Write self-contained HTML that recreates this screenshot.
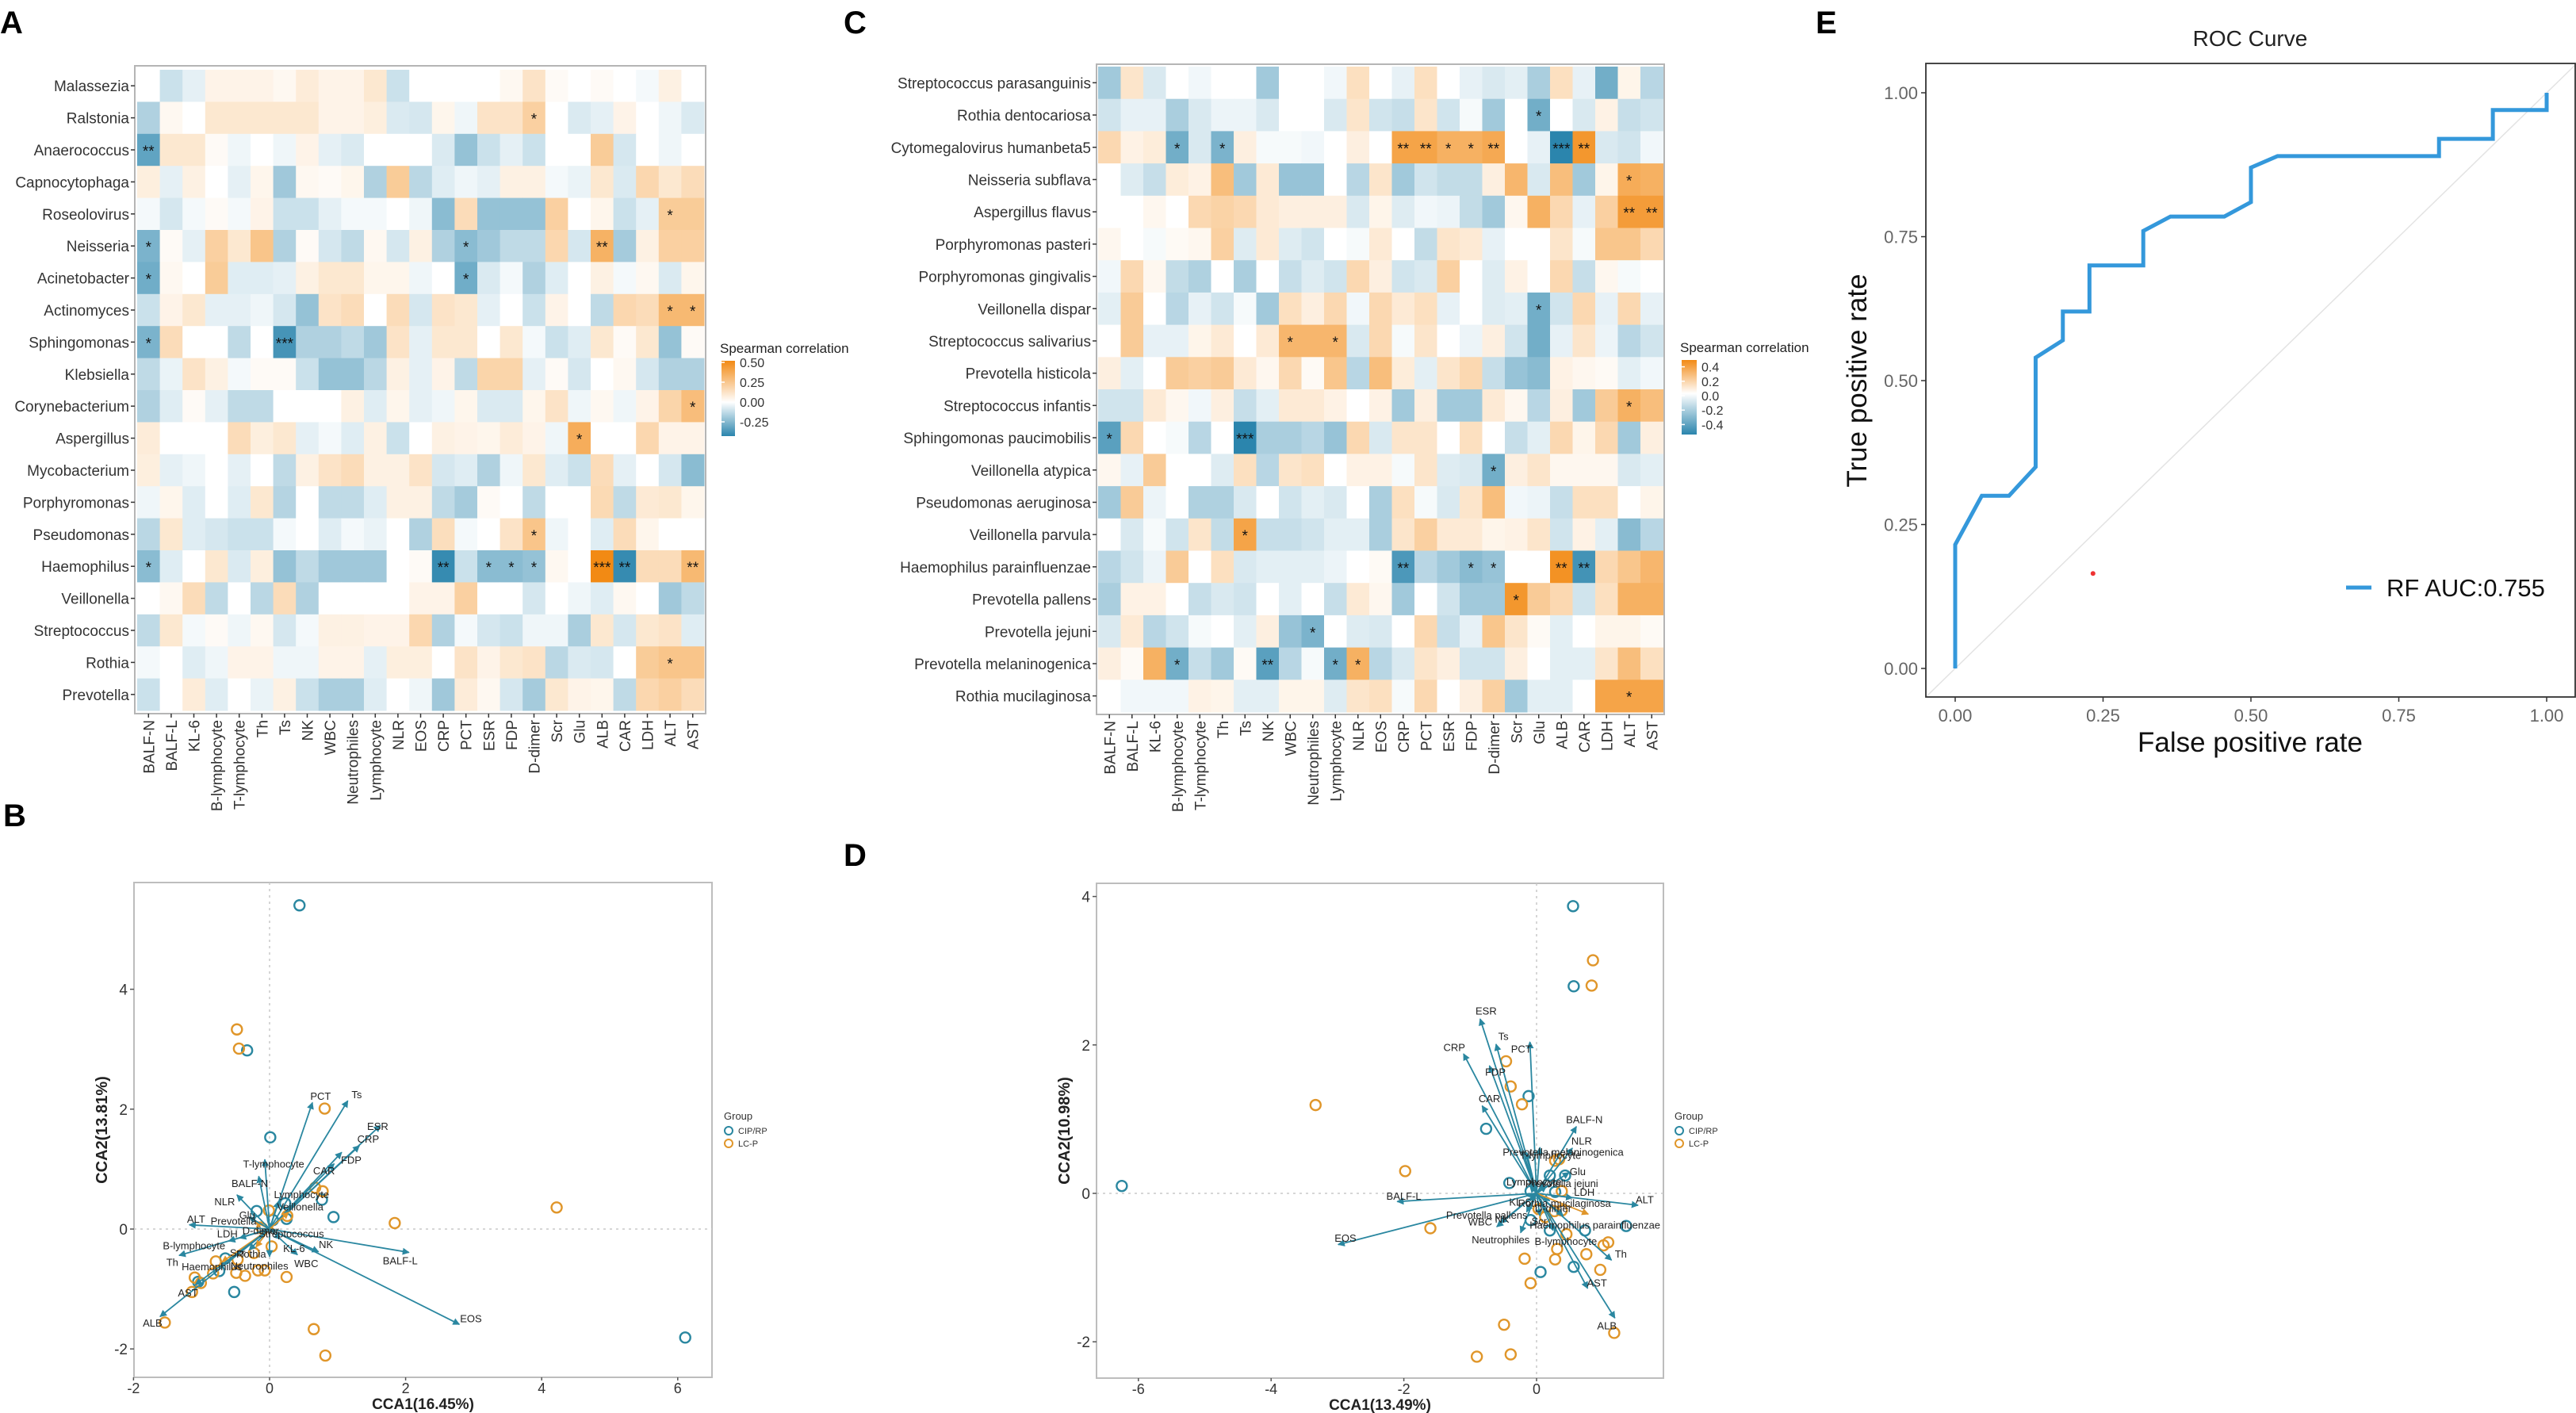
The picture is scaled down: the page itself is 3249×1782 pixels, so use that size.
<!DOCTYPE html>
<html><head><meta charset="utf-8"><style>
html,body{margin:0;padding:0;background:#fff;}
svg{display:block;font-family:"Liberation Sans",sans-serif;}
</style></head><body>
<svg id="fig" width="3249" height="1782" viewBox="0 0 3249 1782" xmlns="http://www.w3.org/2000/svg">
<defs>
<marker id="arT" viewBox="0 0 10 10" refX="9" refY="5" markerWidth="5" markerHeight="5" orient="auto"><path d="M0,0 L10,5 L0,10 z" fill="#2a87a0"/></marker>
<marker id="arO" viewBox="0 0 10 10" refX="9" refY="5" markerWidth="5" markerHeight="5" orient="auto"><path d="M0,0 L10,5 L0,10 z" fill="#e0962a"/></marker>
<linearGradient id="gradA" x1="0" y1="1" x2="0" y2="0">
<stop offset="0" stop-color="#2b85ad"/><stop offset="0.45" stop-color="#ffffff"/><stop offset="1" stop-color="#f28a14"/></linearGradient>
<linearGradient id="gradC" x1="0" y1="1" x2="0" y2="0">
<stop offset="0" stop-color="#2b85ad"/><stop offset="0.55" stop-color="#ffffff"/><stop offset="1" stop-color="#f28a14"/></linearGradient>
</defs>
</svg>
<script>
// ---------- DATA ----------
const colLabels = ["BALF-N","BALF-L","KL-6","B-lymphocyte","T-lymphocyte","Th","Ts","NK","WBC","Neutrophiles","Lymphocyte","NLR","EOS","CRP","PCT","ESR","FDP","D-dimer","Scr","Glu","ALB","CAR","LDH","ALT","AST"];
const rowsA = ["Malassezia","Ralstonia","Anaerococcus","Capnocytophaga","Roseolovirus","Neisseria","Acinetobacter","Actinomyces","Sphingomonas","Klebsiella","Corynebacterium","Aspergillus","Mycobacterium","Porphyromonas","Pseudomonas","Haemophilus","Veillonella","Streptococcus","Rothia","Prevotella"];
const valsA = [
[0,-.1,-.05,.05,.05,.05,.03,.08,.05,.05,.1,-.1,0,0,0,0,.03,.12,.02,0,.02,0,-.02,.06,0],
[-.15,.03,0,.1,.1,.1,.1,.1,.05,.05,.07,-.07,-.08,.04,-.03,.12,.12,.2,0,-.07,-.05,.05,0,-.03,-.07],
[-.3,.1,.1,.02,-.03,0,-.03,.05,-.05,-.07,0,0,0,-.07,-.2,-.1,-.05,-.1,0,0,.22,-.08,0,-.03,0],
[.07,-.05,.06,0,-.05,.04,-.18,.03,.02,.04,-.15,.22,-.13,-.06,-.03,-.05,.06,.06,-.02,-.04,.1,-.07,.17,.1,.15],
[-.02,-.08,-.02,.02,-.02,.05,-.1,-.1,-.05,-.02,-.02,0,-.03,-.22,.15,-.2,-.2,-.2,.2,0,.04,-.1,-.05,.22,.22],
[-.25,.02,-.05,.2,.1,.25,-.15,.02,-.08,-.12,.03,-.08,.06,-.15,-.22,-.18,-.12,-.12,.17,-.08,.33,-.17,.06,.2,.2],
[-.27,.03,0,.22,-.06,-.06,-.05,.06,.1,.1,.04,.04,-.03,0,-.27,-.07,-.02,-.15,-.06,0,.06,-.02,.03,-.07,.04],
[-.1,.05,.1,-.05,-.05,-.03,-.08,-.2,.12,.15,0,.15,-.08,.12,.1,-.05,0,-.1,.05,0,-.12,.17,.15,.3,.3],
[-.25,.15,0,0,-.12,0,-.35,-.15,-.15,-.12,-.18,.12,-.05,.1,.1,0,.1,-.02,-.1,-.06,.1,.02,.1,-.2,.02],
[-.12,-.04,.12,.06,-.02,.02,.02,-.1,-.2,-.2,-.13,.06,-.05,.05,-.12,.18,.18,-.05,.02,-.08,0,.03,-.08,-.15,-.15],
[-.15,-.06,.02,-.05,-.12,-.12,0,0,0,.06,-.06,.04,-.05,-.03,.04,-.07,-.07,.04,.12,-.03,.03,-.03,.05,.18,.28],
[.08,0,0,0,.15,.07,.1,-.05,-.02,-.06,.06,-.1,0,.06,.05,.04,.08,.05,-.03,.35,0,0,.17,.05,.05],
[.07,-.05,-.03,0,-.05,0,-.12,.06,.12,.15,.06,.06,.12,-.08,-.06,-.15,-.03,.1,-.06,-.1,.15,-.05,0,-.08,-.22],
[-.03,.04,-.06,0,-.06,.1,-.14,0,-.12,-.12,-.06,.06,.06,-.12,-.17,.02,0,-.12,0,0,.16,-.12,.09,.1,.04],
[-.13,.1,-.06,-.08,-.1,-.1,-.02,0,-.06,-.02,-.04,0,-.15,.14,-.02,0,.12,.25,-.03,0,-.06,.15,.04,0,0],
[-.22,-.06,0,.1,-.07,.07,-.2,-.12,-.18,-.18,-.18,0,.02,-.38,-.1,-.22,-.22,-.2,.03,0,.5,-.38,.15,.15,.3],
[0,.03,.15,-.12,0,-.13,.15,-.15,0,0,0,0,.05,.05,.2,0,0,-.08,0,-.03,-.06,.03,0,-.18,-.12],
[-.12,.1,-.02,.02,-.03,.03,-.08,-.02,.06,.06,.05,.05,.17,-.15,-.02,-.08,-.1,-.03,-.03,-.16,.1,-.08,.1,.12,-.06],
[-.02,0,-.06,-.03,.05,.05,-.03,-.03,.05,.05,-.05,.07,.07,0,.12,.05,.1,.12,-.13,-.07,-.08,0,.22,.25,.25],
[-.1,0,.08,-.06,0,-.04,.06,-.1,-.16,-.16,-.06,0,-.03,-.18,.08,.03,-.08,-.17,.1,.05,.04,-.12,.17,.2,.15]];
const starsA = [[1,17,"*"],[2,0,"**"],[4,23,"*"],[5,0,"*"],[5,14,"*"],[5,20,"**"],[6,0,"*"],[6,14,"*"],[7,23,"*"],[7,24,"*"],[8,0,"*"],[8,6,"***"],[10,24,"*"],[11,19,"*"],[14,17,"*"],[15,0,"*"],[15,13,"**"],[15,15,"*"],[15,16,"*"],[15,17,"*"],[15,20,"***"],[15,21,"**"],[15,24,"**"],[18,23,"*"]];
const legendTicksA = ["0.50","0.25","0.00","-0.25"];

const rowsC = ["Streptococcus parasanguinis","Rothia dentocariosa","Cytomegalovirus humanbeta5","Neisseria subflava","Aspergillus flavus","Porphyromonas pasteri","Porphyromonas gingivalis","Veillonella dispar","Streptococcus salivarius","Prevotella histicola","Streptococcus infantis","Sphingomonas paucimobilis","Veillonella atypica","Pseudomonas aeruginosa","Veillonella parvula","Haemophilus parainfluenzae","Prevotella pallens","Prevotella jejuni","Prevotella melaninogenica","Rothia mucilaginosa"];
const valsC = [
[-.2,.1,-.08,0,-.03,0,0,-.2,0,0,-.03,.12,0,-.05,.12,0,-.05,-.08,-.06,-.18,.12,-.05,-.3,.04,-.15],
[-.1,-.05,-.05,-.18,-.08,-.04,-.04,-.08,0,0,-.08,.1,-.1,-.12,.1,-.1,-.02,-.2,0,-.3,0,-.08,.05,-.12,-.1],
[.15,.05,.07,-.3,-.08,-.28,.06,-.02,-.02,-.03,0,.06,0,.35,.35,.3,.3,.33,0,-.05,-.45,.4,-.08,-.1,-.03],
[0,-.07,-.12,.07,.05,.25,-.2,.08,-.22,-.22,0,-.15,.1,-.2,-.1,-.13,-.13,.06,.28,-.08,.25,-.2,.04,.32,.3],
[0,0,.03,0,.15,.17,.15,.08,.06,.06,.06,-.08,.04,-.07,-.03,-.04,-.13,-.2,.03,.3,.15,-.05,.18,.38,.38],
[.03,0,-.02,.02,.03,.18,-.07,.08,-.07,-.1,0,-.02,.08,0,-.13,.1,.08,-.05,0,0,.1,-.02,.22,.22,.15],
[-.03,.15,.03,-.13,-.17,0,-.18,0,-.12,-.07,-.1,.15,.06,-.1,-.08,.18,0,-.07,.05,0,.15,-.12,.03,-.02,0],
[-.06,.2,0,-.15,-.05,-.1,-.02,-.2,.12,.06,.15,-.03,.15,.08,.12,-.05,0,-.07,-.06,-.3,-.1,.15,-.05,.15,-.05],
[0,.2,-.05,-.05,.04,.08,0,.08,.28,.28,.28,-.08,.15,-.02,.1,0,-.04,.06,-.1,-.3,-.05,.1,-.04,-.15,-.1],
[.06,-.06,0,.2,.18,.2,.08,.03,.15,.02,.22,-.15,.25,.07,-.06,.1,.15,-.12,-.22,-.25,.05,.03,.02,-.06,-.03],
[-.1,-.1,.08,.03,-.03,.06,-.12,-.06,.08,.08,.05,0,.05,-.2,.06,-.2,-.2,.08,.03,-.15,.06,-.2,.2,.3,.25],
[-.35,.15,0,-.02,-.15,0,-.45,-.18,-.18,-.15,-.22,.15,-.08,.1,.1,0,.12,0,-.12,-.06,.15,.04,.15,-.2,.06],
[.03,-.05,.2,0,0,-.07,.12,-.15,.1,.12,0,.05,.05,-.02,.1,-.07,-.08,-.3,.06,.1,.03,.03,.03,-.08,-.06],
[-.2,.2,-.04,0,-.17,-.17,-.08,0,-.1,-.06,-.08,0,-.18,.12,-.02,-.08,.1,.25,-.03,-.04,-.12,.12,.12,0,.04],
[0,-.08,-.02,-.1,.1,-.13,.35,-.12,-.12,-.1,-.06,-.06,-.18,.1,.18,.08,.08,.04,.05,.1,-.1,.05,-.06,-.25,-.15],
[-.15,-.1,-.04,.2,0,.12,-.08,-.06,-.06,-.06,-.04,0,.02,-.38,-.15,-.2,-.25,-.22,0,0,.42,-.4,.15,.22,.28],
[-.18,.05,.05,0,-.12,-.08,-.1,0,-.06,0,-.12,.08,.03,-.2,0,-.1,-.2,-.2,.4,.2,.15,-.1,.12,.3,.3],
[-.08,.08,-.15,-.1,-.02,0,-.06,.06,-.22,-.28,0,-.07,-.08,0,.15,-.12,-.05,.22,.1,.02,-.06,0,.04,.04,.02],
[.06,.02,.3,-.3,-.12,-.2,.02,-.35,-.15,-.02,-.3,.3,-.15,-.08,.1,.06,-.1,-.1,.06,0,-.06,-.06,.1,.25,.12],
[0,-.03,-.03,-.03,.05,.04,-.06,-.06,.04,.04,-.07,.1,.12,-.02,.15,0,.06,.18,-.2,-.06,-.06,0,.35,.35,.35]];
const starsC = [[1,19,"*"],[2,3,"*"],[2,5,"*"],[2,13,"**"],[2,14,"**"],[2,15,"*"],[2,16,"*"],[2,17,"**"],[2,20,"***"],[2,21,"**"],[3,23,"*"],[4,23,"**"],[4,24,"**"],[7,19,"*"],[8,8,"*"],[8,10,"*"],[10,23,"*"],[11,0,"*"],[11,6,"***"],[12,17,"*"],[14,6,"*"],[15,13,"**"],[15,16,"*"],[15,17,"*"],[15,20,"**"],[15,21,"**"],[16,18,"*"],[17,9,"*"],[18,3,"*"],[18,7,"**"],[18,10,"*"],[18,11,"*"],[19,23,"*"]];
const legendTicksC = ["0.4","0.2","0.0","-0.2","-0.4"];

// CCA panel B
const ptsBx = [0.44,-0.33,0.01,0.94,0.77,0.25,0.05,-0.19,-0.65,-0.74,-1.05,-0.52,6.11,0.23, -0.48,-0.45,0.81,4.22,1.84,0.78,0.67,-0.01,0.26,0.03,-0.17,-0.07,-0.36,-0.49,-0.47,-0.79,-0.83,-1.10,-1.01,-1.14,-1.54,0.25,0.65,0.82,-0.23,-0.11];
const ptsBy = [5.40,2.98,1.53,0.20,0.49,0.17,0.15,0.30,-0.49,-0.70,-0.88,-1.05,-1.81,0.43, 3.33,3.01,2.01,0.36,0.10,0.63,0.69,0.31,0.22,-0.29,-0.69,-0.69,-0.78,-0.73,-0.51,-0.54,-0.74,-0.81,-0.90,-1.05,-1.56,-0.80,-1.67,-2.11,-0.40,0.01];
const ptsBg = [0,0,0,0,0,0,0,0,0,0,0,0,0,0, 1,1,1,1,1,1,1,1,1,1,1,1,1,1,1,1,1,1,1,1,1,1,1,1,1,1];
const arrNamesB = ["PCT","Ts","ESR","CRP","FDP","CAR","T-lymphocyte","BALF-N","Lymphocyte","Veillonella","NLR","ALT","Prevotella","Glu","LDH","D-dimer","Streptococcus","B-lymphocyte","Th","Haemophilus","Neutrophiles","Scr","Rothia","KL-6","WBC","NK","BALF-L","EOS","AST","ALB"];
const arrXB = [0.63,1.15,1.63,1.32,1.06,0.95,-0.07,-0.16,0.13,0.28,-0.48,-1.18,-0.21,-0.3,-0.44,-0.1,0.1,-0.6,-1.33,-0.7,0,-0.3,-0.2,0.16,0.41,0.72,2.05,2.79,-1.09,-1.61];
const arrYB = [2.11,2.14,1.73,1.39,1.28,1.09,1.16,0.88,0.46,0.28,0.57,0.07,0.12,0.2,-0.15,-0.05,-0.05,-0.2,-0.44,-0.55,-0.46,-0.35,-0.3,-0.17,-0.43,-0.38,-0.39,-1.59,-0.93,-1.46];
const labXB = [0.75,1.28,1.59,1.45,1.20,0.80,0.06,-0.29,0.47,0.45,-0.66,-1.08,-0.53,-0.33,-0.62,-0.13,0.32,-1.11,-1.43,-0.85,-0.15,-0.47,-0.27,0.36,0.54,0.83,1.92,2.96,-1.20,-1.72];
const labYB = [2.22,2.25,1.72,1.51,1.16,0.98,1.09,0.77,0.58,0.38,0.46,0.17,0.14,0.24,-0.07,-0.02,-0.07,-0.27,-0.55,-0.62,-0.61,-0.39,-0.41,-0.32,-0.57,-0.25,-0.52,-1.49,-1.06,-1.56];
const arrSpeciesB = [9,12,16,19,22];
const ticksBx = [-2,0,2,4,6];
const ticksBy = [-2,0,2,4];

// CCA panel D
const ptsDx = [0.55,0.56,-0.12,-0.76,-6.25,-0.41,-0.09,0.2,0.43,0.28,-0.09,0.2,0.73,1.35,0.56,0.06, 0.85,0.83,-0.46,-0.39,-0.22,-3.33,-1.98,-1.6,0.34,0.28,0.38,0.03,0.27,0.38,0.45,0.31,0.28,0.75,1.01,1.08,0.96,-0.18,-0.09,-0.49,1.17,-0.9,-0.39,0.13];
const ptsDy = [3.87,2.79,1.31,0.87,0.10,0.14,0.03,0.24,0.24,0.02,-0.36,-0.5,-0.5,-0.44,-0.99,-1.06, 3.14,2.80,1.78,1.44,1.20,1.19,0.30,-0.47,0.46,0.44,0.03,-0.21,-0.24,-0.23,-0.55,-0.75,-0.89,-0.82,-0.7,-0.66,-1.03,-0.88,-1.21,-1.77,-1.88,-2.2,-2.17,-0.32];
const ptsDg = [0,0,0,0,0,0,0,0,0,0,0,0,0,0,0,0, 1,1,1,1,1,1,1,1,1,1,1,1,1,1,1,1,1,1,1,1,1,1,1,1,1,1,1,1];
const arrNamesD = ["ESR","Ts","PCT","CRP","FDP","CAR","BALF-N","NLR","Prevotella melaninogenica","T-lymphocyte","Glu","Lymphocyte","Prevotella jejuni","LDH","ALT","KL-6","Rothia mucilaginosa","D-dimer","Prevotella pallens","WBC","NK","Scr","Haemophilus parainfluenzae","Neutrophiles","B-lymphocyte","Th","AST","ALB","BALF-L","EOS"];
const arrXD = [-0.85,-0.61,-0.1,-1.10,-0.71,-0.82,0.6,0.54,0.05,-0.15,0.49,-0.1,0.15,0.54,1.53,-0.1,0.2,0.78,-0.15,-0.6,-0.55,0.05,0.4,-0.24,0.25,1.13,0.77,1.18,-2.1,-2.99];
const arrYD = [2.35,2.01,2.04,1.88,1.72,1.18,0.9,0.61,0.62,0.55,0.28,0.1,0.1,-0.06,-0.16,-0.1,-0.1,-0.28,-0.25,-0.45,-0.4,-0.3,-0.3,-0.53,-0.5,-0.9,-1.28,-1.68,-0.11,-0.69];
const labXD = [-0.76,-0.5,-0.23,-1.24,-0.62,-0.71,0.72,0.68,0.40,0.21,0.62,-0.04,0.38,0.72,1.63,-0.25,0.42,0.25,-0.75,-0.85,-0.52,0.04,0.88,-0.54,0.44,1.27,0.91,1.06,-2.0,-2.88];
const labYD = [2.46,2.12,1.95,1.97,1.64,1.28,1.0,0.71,0.56,0.52,0.30,0.16,0.14,0.02,-0.08,-0.11,-0.13,-0.2,-0.29,-0.38,-0.34,-0.37,-0.42,-0.62,-0.64,-0.81,-1.2,-1.78,-0.03,-0.6];
const arrSpeciesD = [17];
const ticksDx = [-6,-4,-2,0];
const ticksDy = [-2,0,2,4];

// ROC panel E
const rocFpr = [0,0,0.045,0.091,0.136,0.136,0.182,0.182,0.227,0.227,0.318,0.318,0.364,0.455,0.5,0.5,0.545,0.818,0.818,0.909,0.909,1,1];
const rocTpr = [0,0.215,0.30,0.30,0.35,0.54,0.57,0.62,0.62,0.70,0.70,0.76,0.785,0.785,0.81,0.87,0.89,0.89,0.92,0.92,0.97,0.97,1.0];
const rocTicks = [0,0.25,0.5,0.75,1];
const rocTickLabels = ["0.00","0.25","0.50","0.75","1.00"];
const redDot = [0.233,0.165];

// ---------- DRAW ----------
const NS = "http://www.w3.org/2000/svg";
const svg = document.getElementById('fig');
function add(parent, tag, attrs, name, txt) {
  const el = document.createElementNS(NS, tag);
  for (const k in attrs) el.setAttribute(k, attrs[k]);
  
  
  if (txt !== undefined) el.textContent = txt;
  parent.appendChild(el);
  return el;
}
function mix(a, b, t) {
  const pa = [parseInt(a.slice(1,3),16),parseInt(a.slice(3,5),16),parseInt(a.slice(5,7),16)];
  const pb = [parseInt(b.slice(1,3),16),parseInt(b.slice(3,5),16),parseInt(b.slice(5,7),16)];
  return 'rgb(' + pa.map((v,i)=>Math.round(v+(pb[i]-v)*t)).join(',') + ')';
}
function colorFor(v, vmax, vmin) {
  if (v >= 0) return mix('#ffffff', '#f28a14', Math.min(1, v / vmax));
  return mix('#ffffff', '#2b85ad', Math.min(1, -v / vmin));
}

function heatmap(cfg) {
  const g = add(svg, 'g', {}, cfg.name);
  const {x0, y0, cw, rh, rows, vals, stars} = cfg;
  add(g, 'rect', {x: cfg.fx0, y: cfg.fy0, width: cfg.fx1 - cfg.fx0, height: cfg.fy1 - cfg.fy0, fill: '#fff', stroke: '#b5b5b5', 'stroke-width': 2}, 'plot-frame');
  vals.forEach((row, r) => row.forEach((v, c) => {
    add(g, 'rect', {x: x0 + c * cw, y: y0 + r * rh, width: cw + 0.5, height: rh + 0.5, fill: colorFor(v, cfg.vmax, cfg.vmin)}, 'heatmap-cell');
  }));
  stars.forEach(s => {
    add(g, 'text', {x: x0 + (s[1] + 0.5) * cw, y: y0 + (s[0] + 0.5) * rh + 8, 'text-anchor': 'middle', 'font-size': 19, fill: '#111'}, 'significance-star', s[2]);
  });
  rows.forEach((lab, r) => {
    const cy = y0 + (r + 0.5) * rh;
    add(g, 'line', {x1: cfg.fx0 - 5, x2: cfg.fx0, y1: cy, y2: cy, stroke: '#333', 'stroke-width': 1.5}, 'y-tick');
    add(g, 'text', {x: cfg.fx0 - 7, y: cy + 7, 'text-anchor': 'end', 'font-size': 19, fill: '#333'}, 'row-label', lab);
  });
  colLabels.forEach((lab, c) => {
    const cx = x0 + (c + 0.5) * cw;
    add(g, 'line', {x1: cx, x2: cx, y1: cfg.fy1, y2: cfg.fy1 + 5, stroke: '#333', 'stroke-width': 1.5}, 'x-tick');
    add(g, 'text', {x: cx + 7, y: cfg.fy1 + 8, 'text-anchor': 'end', 'font-size': 19, fill: '#333', transform: `rotate(-90 ${cx + 7} ${cfg.fy1 + 8})`}, 'column-label', lab);
  });
  add(g, 'text', {x: cfg.lx, y: cfg.ly0 - 10, 'font-size': 17, fill: '#222'}, 'legend-title', 'Spearman correlation');
  add(g, 'rect', {x: cfg.lx + 2, y: cfg.ly0, width: cfg.lw, height: cfg.ly1 - cfg.ly0, fill: cfg.grad}, 'colorbar');
  cfg.ticks.forEach((t, i) => {
    const ty = cfg.tyFn(parseFloat(t));
    add(g, 'line', {x1: cfg.lx + 2, x2: cfg.lx + 6, y1: ty, y2: ty, stroke: '#fff', 'stroke-width': 1.5}, 'colorbar-tick');
    add(g, 'text', {x: cfg.lx + cfg.lw + 8, y: ty + 6, 'font-size': 16, fill: '#333'}, 'colorbar-label', t);
  });
}
heatmap({name: 'heatmap-a', x0: 173, y0: 88, cw: 28.6, rh: 40.4, fx0: 170, fx1: 890, fy0: 83, fy1: 900, rows: rowsA, vals: valsA, stars: starsA, vmax: 0.5, vmin: 0.4,
  lx: 908, lw: 17, ly0: 455, ly1: 550, grad: 'url(#gradA)', ticks: legendTicksA, tyFn: v => 507 - v * 100});
heatmap({name: 'heatmap-c', x0: 1385, y0: 84, cw: 28.5, rh: 40.7, fx0: 1383, fx1: 2099, fy0: 81, fy1: 901, rows: rowsC, vals: valsC, stars: starsC, vmax: 0.45, vmin: 0.45,
  lx: 2119, lw: 19, ly0: 454, ly1: 548, grad: 'url(#gradC)', ticks: legendTicksC, tyFn: v => 499 - v * 91});

function cca(cfg) {
  const g = add(svg, 'g', {}, cfg.name);
  const sx = v => cfg.ox + v * cfg.kx, sy = v => cfg.oy - v * cfg.ky;
  add(g, 'rect', {x: cfg.fx0, y: cfg.fy0, width: cfg.fx1 - cfg.fx0, height: cfg.fy1 - cfg.fy0, fill: '#fff', stroke: '#bdbdbd', 'stroke-width': 2}, 'plot-frame');
  add(g, 'line', {x1: sx(0), x2: sx(0), y1: cfg.fy0, y2: cfg.fy1, stroke: '#c8c8c8', 'stroke-width': 1.5, 'stroke-dasharray': '3,5'}, 'zero-line-vertical');
  add(g, 'line', {x1: cfg.fx0, x2: cfg.fx1, y1: sy(0), y2: sy(0), stroke: '#c8c8c8', 'stroke-width': 1.5, 'stroke-dasharray': '3,5'}, 'zero-line-horizontal');
  cfg.px.forEach((v, i) => {
    add(g, 'circle', {cx: sx(v), cy: sy(cfg.py[i]), r: 6.5, fill: 'none', stroke: cfg.pg[i] ? '#e0962a' : '#2a87a0', 'stroke-width': 2.4}, cfg.pg[i] ? 'point-lc-p' : 'point-cip-rp');
  });
  cfg.an.forEach((n, i) => {
    const sp = cfg.spec.includes(i);
    add(g, 'line', {x1: sx(0), y1: sy(0), x2: sx(cfg.ax[i]), y2: sy(cfg.ay[i]), stroke: sp ? '#e0962a' : '#2a87a0', 'stroke-width': 1.8, 'marker-end': sp ? 'url(#arO)' : 'url(#arT)'}, 'vector-arrow');
  });
  cfg.an.forEach((n, i) => {
    add(g, 'text', {x: sx(cfg.lxs[i]), y: sy(cfg.lys[i]) + 5, 'text-anchor': 'middle', 'font-size': 13, fill: '#222'}, 'vector-label', n);
  });
  cfg.tx.forEach(t => {
    add(g, 'line', {x1: sx(t), x2: sx(t), y1: cfg.fy1, y2: cfg.fy1 + 4, stroke: '#555', 'stroke-width': 1.5}, 'x-tick');
    add(g, 'text', {x: sx(t), y: cfg.fy1 + 20, 'text-anchor': 'middle', 'font-size': 18, fill: '#333'}, 'x-tick-label', t);
  });
  cfg.ty.forEach(t => {
    add(g, 'line', {x1: cfg.fx0 - 5, x2: cfg.fx0, y1: sy(t), y2: sy(t), stroke: '#555', 'stroke-width': 1.5}, 'y-tick');
    add(g, 'text', {x: cfg.fx0 - 8, y: sy(t) + 7, 'text-anchor': 'end', 'font-size': 19, fill: '#333'}, 'y-tick-label', t);
  });
  add(g, 'text', {x: (cfg.fx0 + cfg.fx1) / 2, y: cfg.fy1 + 40, 'text-anchor': 'middle', 'font-size': 19, 'font-weight': 'bold', fill: '#222'}, 'x-axis-title', cfg.xt);
  const ytx = cfg.fx0 - 34, yty = (cfg.fy0 + cfg.fy1) / 2;
  add(g, 'text', {x: ytx, y: yty, 'text-anchor': 'middle', 'font-size': 20, 'font-weight': 'bold', fill: '#222', transform: `rotate(-90 ${ytx} ${yty})`}, 'y-axis-title', cfg.yt);
  add(g, 'text', {x: cfg.gx, y: 1412, 'font-size': 13, fill: '#333'}, 'legend-title', 'Group');
  add(g, 'circle', {cx: cfg.gx + 6, cy: 1426, r: 5, fill: 'none', stroke: '#2a87a0', 'stroke-width': 2}, 'legend-key-cip-rp');
  add(g, 'text', {x: cfg.gx + 18, y: 1430, 'font-size': 11, fill: '#333'}, 'legend-label', 'CIP/RP');
  add(g, 'circle', {cx: cfg.gx + 6, cy: 1442, r: 5, fill: 'none', stroke: '#e0962a', 'stroke-width': 2}, 'legend-key-lc-p');
  add(g, 'text', {x: cfg.gx + 18, y: 1446, 'font-size': 11, fill: '#333'}, 'legend-label', 'LC-P');
}
cca({name: 'cca-plot-b', ox: 340, oy: 1550, kx: 85.8, ky: 75.6, fx0: 169, fx1: 898, fy0: 1113, fy1: 1737, px: ptsBx, py: ptsBy, pg: ptsBg,
  an: arrNamesB, ax: arrXB, ay: arrYB, lxs: labXB, lys: labYB, spec: arrSpeciesB, tx: ticksBx, ty: ticksBy, xt: 'CCA1(16.45%)', yt: 'CCA2(13.81%)', gx: 913});
cca({name: 'cca-plot-d', ox: 1938, oy: 1505, kx: 83.7, ky: 93.6, fx0: 1383, fx1: 2098, fy0: 1114, fy1: 1738, px: ptsDx, py: ptsDy, pg: ptsDg,
  an: arrNamesD, ax: arrXD, ay: arrYD, lxs: labXD, lys: labYD, spec: arrSpeciesD, tx: ticksDx, ty: ticksDy, xt: 'CCA1(13.49%)', yt: 'CCA2(10.98%)', gx: 2112});

// ROC
(function () {
  const g = add(svg, 'g', {}, 'roc-plot-e');
  const sx = v => 2466 + v * 746, sy = v => 843 - v * 726;
  add(g, 'line', {x1: sx(-0.05), y1: sy(-0.05), x2: sx(1.05), y2: sy(1.05), stroke: '#e3e3e3', 'stroke-width': 1.5}, 'diagonal-reference');
  add(g, 'polyline', {points: rocFpr.map((v, i) => sx(v) + ',' + sy(rocTpr[i])).join(' '), fill: 'none', stroke: '#3498db', 'stroke-width': 5, 'stroke-linejoin': 'miter'}, 'roc-curve-rf');
  add(g, 'circle', {cx: sx(redDot[0]), cy: sy(redDot[1]), r: 3, fill: '#e33'}, 'cutoff-point');
  add(g, 'rect', {x: 2429, y: 80, width: 819, height: 799, fill: 'none', stroke: '#333', 'stroke-width': 1.8}, 'plot-frame');
  rocTicks.forEach((t, i) => {
    add(g, 'line', {x1: sx(t), x2: sx(t), y1: 879, y2: 885, stroke: '#333', 'stroke-width': 1.5}, 'x-tick');
    add(g, 'text', {x: sx(t), y: 910, 'text-anchor': 'middle', 'font-size': 22, fill: '#666'}, 'x-tick-label', rocTickLabels[i]);
    add(g, 'line', {x1: 2423, x2: 2429, y1: sy(t), y2: sy(t), stroke: '#333', 'stroke-width': 1.5}, 'y-tick');
    add(g, 'text', {x: 2419, y: sy(t) + 8, 'text-anchor': 'end', 'font-size': 22, fill: '#666'}, 'y-tick-label', rocTickLabels[i]);
  });
  add(g, 'text', {x: 2838, y: 58, 'text-anchor': 'middle', 'font-size': 28, fill: '#222'}, 'chart-title', 'ROC Curve');
  add(g, 'text', {x: 2838, y: 948, 'text-anchor': 'middle', 'font-size': 35, fill: '#111'}, 'x-axis-title', 'False positive rate');
  add(g, 'text', {x: 2354, y: 480, 'text-anchor': 'middle', 'font-size': 35, fill: '#111', transform: 'rotate(-90 2354 480)'}, 'y-axis-title', 'True positive rate');
  add(g, 'line', {x1: 2959, x2: 2991, y1: 741, y2: 741, stroke: '#3498db', 'stroke-width': 5}, 'legend-key');
  add(g, 'text', {x: 3010, y: 752, 'font-size': 31, fill: '#111'}, 'legend-label', 'RF AUC:0.755');
})();

// panel letters
[["A", 0, 42], ["B", 4, 1042], ["C", 1064, 42], ["D", 1064, 1092], ["E", 2290, 42]].forEach(p => {
  add(svg, 'text', {x: p[1], y: p[2], 'font-size': 40, 'font-weight': 'bold', fill: '#000'}, 'panel-label', p[0]);
});
</script>
</body></html>
